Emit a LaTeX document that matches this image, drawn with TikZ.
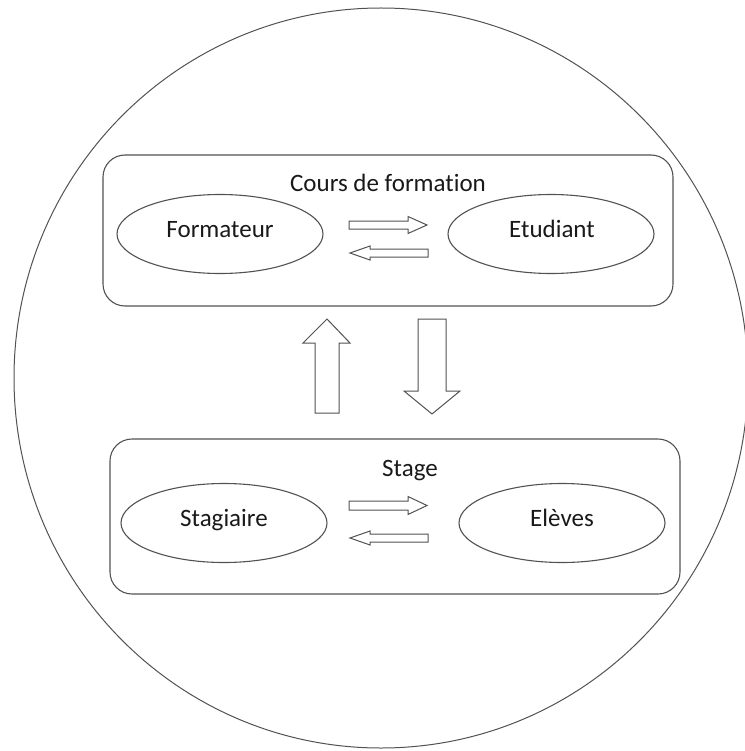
\documentclass[tikz,border=0pt]{standalone}
\usepackage{fontspec}
\setmainfont{Carlito}[Ligatures={NoCommon}]
\usetikzlibrary{shapes.geometric}
\begin{document}
\begin{tikzpicture}[x=1pt,y=-1pt,
  line/.style={draw=black!68,line width=1.1pt},
  frame/.style={line,rounded corners=22pt},
  oval/.style={line,ellipse,minimum width=206pt,minimum height=79pt,inner sep=0pt},
  label/.style={font=\fontsize{25}{30}\selectfont,text=black!90,inner sep=0pt,anchor=base},
  blockarrow/.style={line,line width=1pt,fill=white,line join=miter}]
\useasboundingbox (0,0) rectangle (744,751);
% outer circle
\draw[line,line width=1pt] (381,378) ellipse [x radius=367, y radius=370];
% frames
\draw[frame] (103,155) rectangle (673,306);
\draw[frame] (110,439) rectangle (680,594);
% titles
\node[label] (t1) at (388,192) {Cours de formation};
\node[label] (t2) at (410,476) {Stage};
% ellipses
\node[oval] (formateur) at (220,234) {};
\node[oval] (etudiant) at (551,234) {};
\node[oval] (stagiaire) at (224,523) {};
\node[oval] (eleves) at (562,523) {};
\node[label] (lformateur) at (220,237) {Formateur};
\node[label] (letudiant) at (552,237) {Etudiant};
\node[label] (lstagiaire) at (224,526) {Stagiaire};
\node[label] (leleves) at (562,526) {Elèves};
% small horizontal arrows, top
\draw[blockarrow] (349,221) -- (408,221) -- (408,216.5) -- (427,225) -- (408,233.5) -- (408,229) -- (349,229) -- cycle;
\draw[blockarrow] (428,249) -- (370,249) -- (370,246) -- (350,253) -- (370,260) -- (370,257) -- (428,257) -- cycle;
% small horizontal arrows, bottom
\draw[blockarrow] (349,501) -- (408,501) -- (408,496.5) -- (427,505.5) -- (408,514.5) -- (408,510) -- (349,510) -- cycle;
\draw[blockarrow] (428,534) -- (370,534) -- (370,531) -- (350,538) -- (370,545) -- (370,542) -- (428,542) -- cycle;
% big vertical arrows
\draw[blockarrow] (315,413) -- (315,343) -- (303,343) -- (327,319) -- (350,343) -- (339,343) -- (339,413) -- cycle;
\draw[blockarrow] (418,319) -- (446,319) -- (446,391) -- (460,391) -- (432,414) -- (404,391) -- (418,391) -- cycle;
\end{tikzpicture}
\end{document}
